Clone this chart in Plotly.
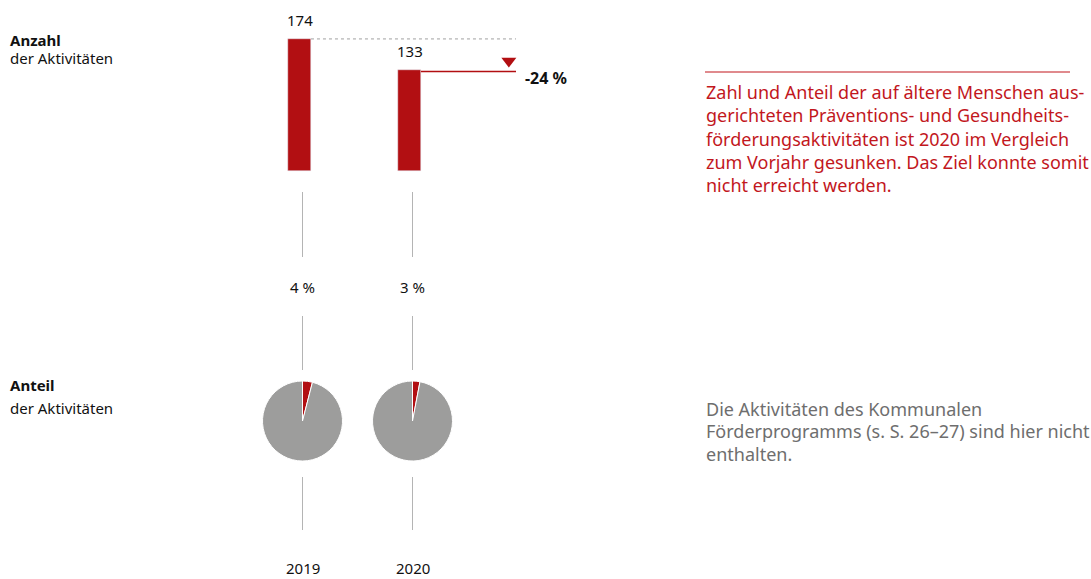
import plotly.graph_objects as go

years = ["2019", "2020"]
anzahl = [174, 133]
anteil = [4, 3]  # percent of all activities

info_lines = ["Zahl und Anteil der auf ältere Menschen aus-",
              "gerichteten Präventions- und Gesundheits-",
              "förderungsaktivitäten ist 2020 im Vergleich",
              "zum Vorjahr gesunken. Das Ziel konnte somit",
              "nicht erreicht werden."]
note_lines = ["Die Aktivitäten des Kommunalen",
              "Förderprogramms (s. S. 26–27) sind hier nicht",
              "enthalten."]

RED = "#b20f12"
TXT_RED = "#c2171d"
GREY = "#9d9d9c"
LINE_GREY = "#b4b4b4"
FONT = "Noto Sans"
W, H = 1091, 579

# axis mapping: category 0 at x=302.5px, 110 px per category
x0 = -302.5 / 110
xr = [x0, x0 + W / 110]
# y: baseline at 171px from top, 0.759 px per unit
ppu = 0.759
y0 = -(H - 171) / ppu
yr = [y0, y0 + H / ppu]


def py(px):  # pixel from top -> paper
    return 1 - px / H


def label(x, ypx, text, size, color="#111111", xref="paper", xanchor="left"):
    fig.add_annotation(x=x, y=py(ypx), xref=xref, yref="paper", xanchor=xanchor, yanchor="middle",
                       text=text, showarrow=False, font=dict(family=FONT, size=size, color=color))


fig = go.Figure()
fig.add_trace(go.Bar(x=[0, 1], y=anzahl, marker_color=RED, width=0.209, offset=-0.132,
                     hoverinfo="skip", showlegend=False))

line_end = (516 - 302.5) / 110
fig.add_shape(type="line", x0=-0.132 + 0.209, x1=line_end, y0=anzahl[0], y1=anzahl[0],
              line=dict(color="#a0a0a0", width=1, dash="dot"))
fig.add_shape(type="line", x0=1 - 0.132 + 0.209, x1=line_end, y0=anzahl[1] - 2, y1=anzahl[1] - 2,
              line=dict(color=RED, width=1.5))
fig.add_trace(go.Scatter(x=[line_end - 0.065], y=[anzahl[1] + 12], mode="markers",
                         marker=dict(symbol="triangle-down", size=13, color=RED),
                         hoverinfo="skip", showlegend=False))
change = round((anzahl[1] - anzahl[0]) / anzahl[0] * 100)
fig.add_annotation(x=line_end, y=anzahl[1], xanchor="left", yanchor="middle", xshift=7, yshift=-8,
                   text="<b>%d %%</b>" % change, showarrow=False,
                   font=dict(family=FONT, size=16, color="#111111"))

for i, (yr_, n, p) in enumerate(zip(years, anzahl, anteil)):
    fig.add_annotation(x=i - 0.027, y=n, yshift=19, yanchor="middle", text=str(n), showarrow=False,
                       font=dict(family=FONT, size=15, color="#111111"))
    label(i, 287, "%d %%" % p, 15, xref="x", xanchor="center")
    label(i, 568, yr_, 15, xref="x", xanchor="center")
    for a, b in [(192, 257), (316, 370), (477, 530)]:
        fig.add_shape(type="line", x0=i, x1=i, yref="paper", y0=py(a), y1=py(b),
                      line=dict(color=LINE_GREY, width=1))
    cx = 302.5 + 110 * i
    fig.add_trace(go.Pie(values=[p, 100 - p], sort=False, direction="clockwise",
                         marker=dict(colors=[RED, GREY], line=dict(color="white", width=1)),
                         textinfo="none", hoverinfo="skip", showlegend=False,
                         domain=dict(x=[(cx - 40) / W, (cx + 40) / W], y=[py(461), py(381)])))

# left labels
for txt, ypx in [("<b>Anzahl</b>", 40), ("der Aktivitäten", 58),
                 ("<b>Anteil</b>", 385), ("der Aktivitäten", 408)]:
    label(8 / W, ypx, txt, 15)

# right texts
fig.add_shape(type="line", xref="paper", yref="paper", x0=705 / W, x1=1070 / W,
              y0=py(72), y1=py(72), line=dict(color=TXT_RED, width=1.2))
for k, t in enumerate(info_lines):
    label(704 / W, 92 + 23.3 * k, t, 18, TXT_RED)
for k, t in enumerate(note_lines):
    label(704 / W, 409 + 22.5 * k, t, 18, "#6e6e6e")

fig.update_layout(width=W, height=H, margin=dict(l=0, r=0, t=0, b=0),
                  plot_bgcolor="white", paper_bgcolor="white", bargap=0,
                  xaxis=dict(range=xr, visible=False, fixedrange=True),
                  yaxis=dict(range=yr, visible=False, fixedrange=True))
fig.write_html("out.html", config={"displayModeBar": False},
               post_script="document.body.style.margin='0';")
